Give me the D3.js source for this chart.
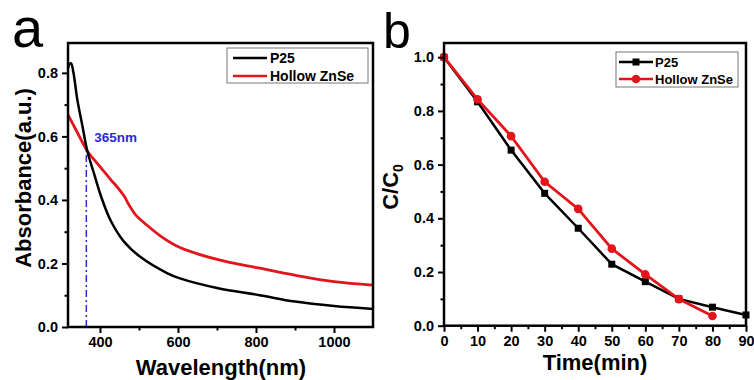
<!DOCTYPE html>
<html>
<head>
<meta charset="utf-8">
<script src="https://cdn.jsdelivr.net/npm/d3@7"></script>
<style>
  body { margin: 0; background: #fff; }
  text { font-family: "Liberation Sans", Arial, sans-serif; }
</style>
</head>
<body>
<svg id="chart" width="754" height="380"></svg>
<script>
// panel a: absorbance spectra
var waveP25 = [318, 322, 326, 332, 342, 355, 367.5, 385, 402, 427, 462, 504, 573, 605, 703, 806, 900, 1000, 1100];
var absP25 = [0.815, 0.828, 0.83, 0.80, 0.715, 0.633, 0.554, 0.482, 0.414, 0.336, 0.268, 0.22, 0.169, 0.153, 0.122, 0.101, 0.08, 0.066, 0.057];
var waveZnSe = [318, 340, 367.5, 393, 427, 450, 462, 475, 492, 520, 560, 605, 703, 806, 900, 1000, 1100];
var absZnSe = [0.668, 0.617, 0.554, 0.515, 0.465, 0.432, 0.412, 0.383, 0.352, 0.321, 0.282, 0.25, 0.212, 0.186, 0.163, 0.143, 0.132];
var markWave = 365;
var markAbs = 0.557;

// panel b: degradation
var times = [0, 10, 20, 30, 40, 50, 60, 70, 80, 90];
var ratioP25 = [1.0, 0.834, 0.654, 0.493, 0.363, 0.229, 0.164, 0.10, 0.069, 0.04];
var timesZnSe = [0, 10, 20, 30, 40, 50, 60, 70, 80];
var ratioZnSe = [1.0, 0.843, 0.706, 0.536, 0.435, 0.287, 0.191, 0.099, 0.036];

var seriesNames = ['P25', 'Hollow ZnSe'];
var seriesColors = ['#000000', '#e3141b'];

var svg = d3.select('#chart');

function zipXY(xs, ys) {
    return xs.map(function (x, i) { return [x, ys[i]]; });
}

function drawFrame(g, x, y, xMajor, xMinor, yMajor, yMinor, xFmt, yFmt) {
    var x0 = x.range()[0], x1 = x.range()[1];
    var y0 = y.range()[0], y1 = y.range()[1];

    g.append('g')
        .attr('transform', 'translate(0,' + y0 + ')')
        .call(d3.axisBottom(x).tickValues(xMajor).tickSize(6).tickPadding(4).tickFormat(xFmt));
    g.append('g')
        .attr('transform', 'translate(0,' + y0 + ')')
        .call(d3.axisBottom(x).tickValues(xMinor).tickSize(3.5).tickFormat(''));
    g.append('g')
        .attr('transform', 'translate(' + x0 + ',0)')
        .call(d3.axisLeft(y).tickValues(yMajor).tickSize(6).tickPadding(4).tickFormat(yFmt));
    g.append('g')
        .attr('transform', 'translate(' + x0 + ',0)')
        .call(d3.axisLeft(y).tickValues(yMinor).tickSize(3.5).tickFormat(''));

    g.selectAll('.domain').remove();
    g.selectAll('.tick line').attr('stroke', '#000').attr('stroke-width', 2);
    g.selectAll('.tick text')
        .attr('fill', '#000')
        .style('font-size', '14.5px')
        .style('font-weight', 'bold');

    g.append('rect')
        .attr('x', x0).attr('y', y1)
        .attr('width', x1 - x0).attr('height', y0 - y1)
        .attr('fill', 'none')
        .attr('stroke', '#000')
        .attr('stroke-width', 2.5);
}

// ---------- panel a ----------
var xa = d3.scaleLinear().domain([318, 1100]).range([68, 373]);
var ya = d3.scaleLinear().domain([0, 0.894]).range([327, 43]);
var ga = svg.append('g');

ga.append('clipPath').attr('id', 'clipA')
    .append('rect').attr('x', 68).attr('y', 43).attr('width', 305).attr('height', 284);

var lineA = d3.line()
    .x(function (d) { return xa(d[0]); })
    .y(function (d) { return ya(d[1]); })
    .curve(d3.curveCatmullRom.alpha(0.5));

// 365nm marker
ga.append('line')
    .attr('x1', xa(markWave)).attr('x2', xa(markWave))
    .attr('y1', ya(0)).attr('y2', ya(markAbs))
    .attr('stroke', '#2b2bd6')
    .attr('stroke-width', 1.5)
    .attr('stroke-dasharray', '7,3,2,3');

ga.append('path')
    .datum(zipXY(waveZnSe, absZnSe))
    .attr('d', lineA)
    .attr('clip-path', 'url(#clipA)')
    .attr('fill', 'none')
    .attr('stroke', seriesColors[1])
    .attr('stroke-width', 2.8);
ga.append('path')
    .datum(zipXY(waveP25, absP25))
    .attr('d', lineA)
    .attr('clip-path', 'url(#clipA)')
    .attr('fill', 'none')
    .attr('stroke', seriesColors[0])
    .attr('stroke-width', 2.5);

drawFrame(ga, xa, ya, [400, 600, 800, 1000], [500, 700, 900],
    [0, 0.2, 0.4, 0.6, 0.8], [0.1, 0.3, 0.5, 0.7], d3.format('d'), d3.format('.1f'));

ga.append('text')
    .attr('x', xa(markWave) + 8).attr('y', 142)
    .attr('fill', '#2b2bd6')
    .style('font-size', '13.5px').style('font-weight', 'bold')
    .text(markWave + 'nm');

ga.append('text')
    .attr('x', 12).attr('y', 47)
    .style('font-size', '56px')
    .text('a');

ga.append('text')
    .attr('transform', 'translate(31,178) rotate(-90)')
    .attr('text-anchor', 'middle')
    .style('font-size', '22px').style('font-weight', 'bold')
    .text('Absorbance(a.u.)');

ga.append('text')
    .attr('x', 221).attr('y', 375)
    .attr('text-anchor', 'middle')
    .style('font-size', '22px').style('font-weight', 'bold')
    .text('Wavelength(nm)');

// legend a
var legA = ga.append('g');
legA.append('rect')
    .attr('x', 227).attr('y', 48).attr('width', 141).attr('height', 35)
    .attr('fill', '#fff').attr('stroke', '#777').attr('stroke-width', 1);
seriesNames.forEach(function (name, i) {
    var yy = 58 + i * 18;
    legA.append('line')
        .attr('x1', 233).attr('x2', 267).attr('y1', yy).attr('y2', yy)
        .attr('stroke', seriesColors[i]).attr('stroke-width', 2.5);
    legA.append('text')
        .attr('x', 270).attr('y', yy + 5)
        .style('font-size', '14px').style('font-weight', 'bold')
        .text(name);
});

// ---------- panel b ----------
var xb = d3.scaleLinear().domain([0, 90]).range([444, 746]);
var yb = d3.scaleLinear().domain([0, 1.053]).range([325.7, 43]);
var gb = svg.append('g');

var lineB = d3.line()
    .x(function (d) { return xb(d[0]); })
    .y(function (d) { return yb(d[1]); });

var dataP25 = zipXY(times, ratioP25);
var dataZnSe = zipXY(timesZnSe, ratioZnSe);

gb.append('path')
    .datum(dataP25)
    .attr('d', lineB)
    .attr('fill', 'none')
    .attr('stroke', seriesColors[0])
    .attr('stroke-width', 2.5);
gb.selectAll('rect.mk')
    .data(dataP25)
    .enter().append('rect')
    .attr('class', 'mk')
    .attr('x', function (d) { return xb(d[0]) - 3.5; })
    .attr('y', function (d) { return yb(d[1]) - 3.5; })
    .attr('width', 7).attr('height', 7)
    .attr('fill', seriesColors[0]);

gb.append('path')
    .datum(dataZnSe)
    .attr('d', lineB)
    .attr('fill', 'none')
    .attr('stroke', seriesColors[1])
    .attr('stroke-width', 2.8);
gb.selectAll('circle.mk')
    .data(dataZnSe)
    .enter().append('circle')
    .attr('class', 'mk')
    .attr('cx', function (d) { return xb(d[0]); })
    .attr('cy', function (d) { return yb(d[1]); })
    .attr('r', 4.3)
    .attr('fill', seriesColors[1]);

drawFrame(gb, xb, yb, d3.range(0, 91, 10), d3.range(5, 90, 10),
    [0, 0.2, 0.4, 0.6, 0.8, 1.0], [0.1, 0.3, 0.5, 0.7, 0.9], d3.format('d'), d3.format('.1f'));

gb.append('text')
    .attr('x', 383).attr('y', 48)
    .style('font-size', '50px')
    .text('b');

var cTitle = gb.append('text')
    .attr('transform', 'translate(398,187) rotate(-90)')
    .attr('text-anchor', 'middle')
    .style('font-size', '22px').style('font-weight', 'bold');
cTitle.append('tspan').text('C/C');
cTitle.append('tspan').attr('dy', 5).style('font-size', '14px').text('0');

gb.append('text')
    .attr('x', 595).attr('y', 370)
    .attr('text-anchor', 'middle')
    .style('font-size', '22px').style('font-weight', 'bold')
    .text('Time(min)');

// legend b
var legB = gb.append('g');
legB.append('rect')
    .attr('x', 616).attr('y', 52).attr('width', 122).attr('height', 35)
    .attr('fill', '#fff').attr('stroke', '#777').attr('stroke-width', 1);
seriesNames.forEach(function (name, i) {
    var yy = 62 + i * 17;
    legB.append('line')
        .attr('x1', 619).attr('x2', 653).attr('y1', yy).attr('y2', yy)
        .attr('stroke', seriesColors[i]).attr('stroke-width', 2.5);
    if (i === 0) {
        legB.append('rect').attr('x', 632.5).attr('y', yy - 3.5)
            .attr('width', 7).attr('height', 7).attr('fill', seriesColors[i]);
    } else {
        legB.append('circle').attr('cx', 636).attr('cy', yy)
            .attr('r', 4.3).attr('fill', seriesColors[i]);
    }
    legB.append('text')
        .attr('x', 655).attr('y', yy + 5)
        .style('font-size', '13px').style('font-weight', 'bold')
        .text(name);
});
</script>
</body>
</html>
